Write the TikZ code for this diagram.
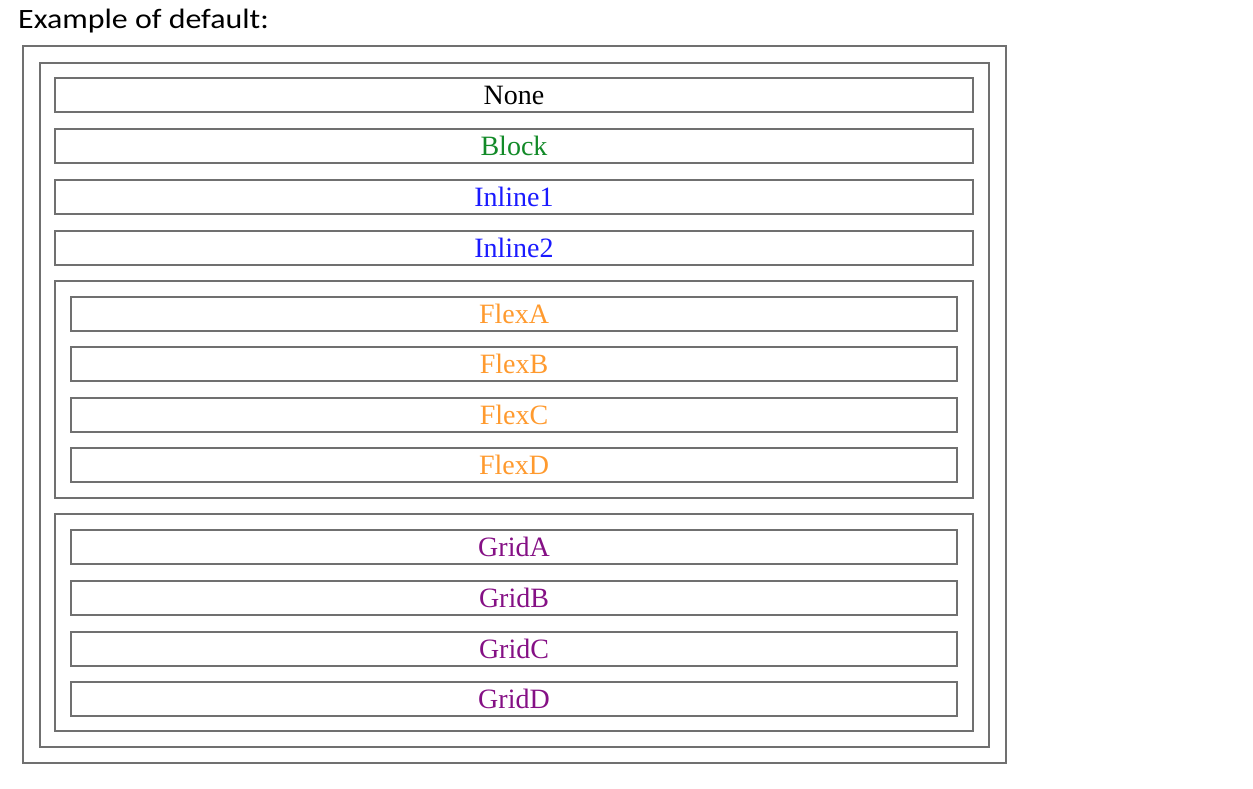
\documentclass[tikz,border=0pt]{standalone}
\usepackage{fontspec}
\setmainfont{Liberation Serif}
\newfontfamily\titlefont{Carlito}
\usetikzlibrary{positioning}

\definecolor{boxgray}{HTML}{707070}
\definecolor{blockgreen}{HTML}{128A28}
\definecolor{inlineblue}{HTML}{1A1AFF}
\definecolor{flexorange}{HTML}{FF9A2E}
\definecolor{gridpurple}{HTML}{851085}

\begin{document}
\begin{tikzpicture}[
    x=1pt,y=-1pt,
    every node/.style={font=\fontsize{28}{30}\selectfont},
    frame/.style={draw=boxgray,line width=2pt,inner sep=0pt,outer sep=0pt},
    row/.style={frame,minimum width=918,minimum height=34},
    subrow/.style={frame,minimum width=886,minimum height=34},
    group/.style={frame,minimum width=918,minimum height=217},
  ]
    \useasboundingbox (0,0) rectangle (1253,789);
    \node[anchor=base west,inner sep=0pt,xscale=1.14,transform shape,
          font=\titlefont\fontsize{28}{30}\selectfont] (title) at (18,29) {Example of default:};
    % outer frames
    \node[frame,minimum width=983,minimum height=717] (outer) at (514.5,404.5) {};
    \node[frame,minimum width=949,minimum height=684] (inner) at (514.5,405) {};
    % plain rows
    \node[row] (none)    at (514,95.5)  {None};
    \node[row,text=blockgreen] (block)   at (514,146)  {Block};
    \node[row,text=inlineblue] (inline1) at (514,197)  {Inline1};
    \node[row,text=inlineblue] (inline2) at (514,247.5)  {Inline2};
    % flex group
    \node[group] (flex) at (514,389.5) {};
    \node[subrow,text=flexorange] (flexa) at (514,314)   {FlexA};
    \node[subrow,text=flexorange] (flexb) at (514,364)   {FlexB};
    \node[subrow,text=flexorange] (flexc) at (514,414.5) {FlexC};
    \node[subrow,text=flexorange] (flexd) at (514,465)   {FlexD};
    % grid group
    \node[group] (grid) at (514,622.5) {};
    \node[subrow,text=gridpurple] (grida) at (514,547)   {GridA};
    \node[subrow,text=gridpurple] (gridb) at (514,597.5) {GridB};
    \node[subrow,text=gridpurple] (gridc) at (514,648.5) {GridC};
    \node[subrow,text=gridpurple] (gridd) at (514,699)   {GridD};
  \end{tikzpicture}
\end{document}
